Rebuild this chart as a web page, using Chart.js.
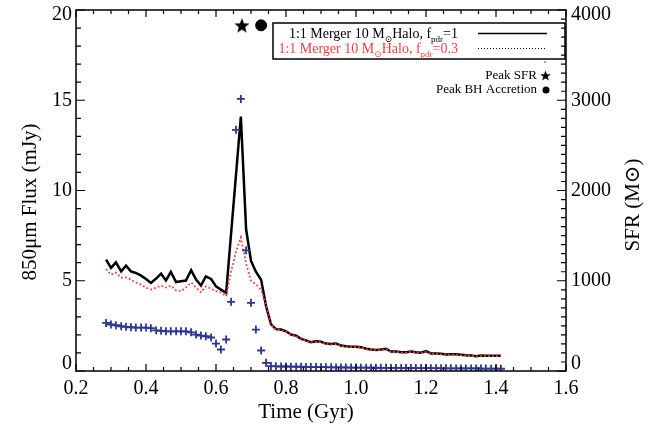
<!DOCTYPE html>
<html>
<head>
<meta charset="utf-8">
<script src="https://cdn.jsdelivr.net/npm/chart.js@4.4.1/dist/chart.umd.min.js"></script>
<style>
  html, body { margin: 0; padding: 0; background: #fff; }
</style>
</head>
<body>
<canvas id="fluxChart" width="660" height="433"></canvas>
<script>
// simulation snapshot times (Gyr)
const timeGyr = [
  0.286, 0.300, 0.314, 0.329, 0.343, 0.357, 0.371, 0.386, 0.400, 0.414,
  0.429, 0.443, 0.457, 0.471, 0.486, 0.500, 0.514, 0.529, 0.543, 0.557,
  0.571, 0.586, 0.600, 0.614, 0.629, 0.643, 0.657, 0.671, 0.686, 0.700,
  0.714, 0.729, 0.743, 0.757, 0.771, 0.786, 0.800, 0.814, 0.829, 0.843,
  0.857, 0.871, 0.886, 0.900, 0.914, 0.929, 0.943, 0.957, 0.971, 0.986,
  1.000, 1.014, 1.029, 1.043, 1.057, 1.071, 1.086, 1.100, 1.114, 1.129,
  1.143, 1.157, 1.171, 1.186, 1.200, 1.214, 1.229, 1.243, 1.257, 1.271,
  1.286, 1.300, 1.314, 1.329, 1.343, 1.357, 1.371, 1.386, 1.400, 1.414
];

// 850um flux (mJy), f_pdr = 1
const fluxFpdr1 = [
  6.17, 5.71, 6.02, 5.52, 5.84, 5.52, 5.43, 5.28, 5.10, 4.88,
  5.12, 5.39, 5.02, 5.49, 4.93, 4.97, 5.01, 5.58, 5.06, 4.73,
  5.24, 5.10, 4.69, 4.51, 4.33, 7.59, 10.84, 14.10, 7.85, 6.10,
  5.50, 5.05, 3.60, 2.60, 2.32, 2.30, 2.20, 2.02, 1.96, 1.78,
  1.70, 1.59, 1.65, 1.62, 1.52, 1.50, 1.52, 1.41, 1.37, 1.34,
  1.34, 1.32, 1.23, 1.19, 1.17, 1.19, 1.23, 1.08, 1.08, 1.04,
  1.04, 1.08, 1.04, 1.01, 1.10, 0.97, 0.97, 0.95, 0.91, 0.93,
  0.93, 0.90, 0.87, 0.86, 0.82, 0.86, 0.84, 0.84, 0.84, 0.84
];

// 850um flux (mJy), f_pdr = 0.3
const fluxFpdr03 = [
  5.65, 5.34, 5.45, 5.17, 5.19, 5.06, 4.90, 4.79, 4.62, 4.51,
  4.62, 4.73, 4.62, 4.73, 4.47, 4.42, 4.62, 4.90, 4.62, 4.36,
  4.69, 4.56, 4.42, 4.34, 4.14, 5.50, 6.60, 7.40, 5.95, 5.00,
  4.80, 4.50, 3.70, 2.62, 2.28, 2.27, 2.17, 2.00, 1.93, 1.76,
  1.68, 1.57, 1.62, 1.60, 1.50, 1.48, 1.49, 1.39, 1.35, 1.32,
  1.32, 1.30, 1.21, 1.17, 1.15, 1.17, 1.21, 1.06, 1.06, 1.02,
  1.02, 1.06, 1.02, 0.99, 1.07, 0.95, 0.95, 0.93, 0.89, 0.91,
  0.91, 0.88, 0.85, 0.84, 0.80, 0.84, 0.82, 0.82, 0.82, 0.82
];

// star formation rate (right axis)
const sfr = [
  533, 515, 507, 496, 489, 485, 481, 481, 481, 474,
  451, 445, 440, 440, 440, 440, 440, 429, 404, 393,
  385, 371, 304, 238, 349, 766, 2672, 3015, 1337, 755,
  459, 227, 91, 55, 52, 50, 50, 48, 47, 47,
  45, 44, 44, 42, 42, 41, 40, 40, 39, 38,
  38, 37, 37, 36, 36, 35, 35, 34, 34, 34,
  33, 33, 32, 32, 31, 31, 31, 30, 30, 30,
  29, 29, 28, 28, 28, 27, 27, 26, 26, 25
];

const peakSfrTime = [0.674];
const peakBhTime = [0.729];
const peakMarkerFlux = 19.15;

const xTickLabels = [0.2, 0.4, 0.6, 0.8, 1.0, 1.2, 1.4, 1.6];
const fluxTickLabels = [0, 5, 10, 15, 20];
const sfrTickLabels = [0, 1000, 2000, 3000, 4000];

const serif = '"Liberation Serif", "DejaVu Serif", serif';
const red = '#ff3b3b';
const navy = '#2c3592';

function makeStar(size) {
  const c = document.createElement('canvas');
  c.width = size; c.height = size;
  const g = c.getContext('2d');
  g.beginPath();
  for (let k = 0; k < 10; k++) {
    const r = k % 2 ? size * 0.21 : size * 0.5;
    const ang = -Math.PI / 2 + k * Math.PI / 5;
    g.lineTo(size / 2 + r * Math.cos(ang), size * 0.55 + r * Math.sin(ang));
  }
  g.closePath();
  g.fillStyle = '#000';
  g.fill();
  return c;
}

function pts(ys) {
  return timeGyr.map((t, i) => ({ x: t, y: ys[i] }));
}

// draw a string with subscript pieces, right aligned at xr
function drawRich(ctx, parts, xr, y, color, size) {
  const main = size + 'px ' + serif;
  const small = Math.round(size * 0.65) + 'px ' + serif;
  let w = 0;
  parts.forEach(p => { ctx.font = p.sub ? small : main; w += ctx.measureText(p.t).width; });
  let xp = xr - w;
  ctx.fillStyle = color;
  ctx.textAlign = 'left';
  ctx.textBaseline = 'alphabetic';
  parts.forEach(p => {
    ctx.font = p.sub ? small : main;
    ctx.fillText(p.t, xp, p.sub ? y + 4 : y);
    xp += ctx.measureText(p.t).width;
  });
}

const idlFrame = {
  id: 'idlFrame',
  afterDatasetsDraw(chart) {
    const { ctx, chartArea: a, scales } = chart;
    const xs = scales.x, yl = scales.y, yr = scales.ySFR;
    ctx.save();
    ctx.strokeStyle = '#000';
    ctx.lineWidth = 1.5;
    ctx.strokeRect(a.left, a.top, a.right - a.left, a.bottom - a.top);

    // inward ticks
    ctx.lineWidth = 1.2;
    ctx.beginPath();
    for (let k = 4; k <= 32; k++) {
      const p = xs.getPixelForValue(k * 0.05);
      const len = k % 4 === 0 ? 7 : 4;
      ctx.moveTo(p, a.bottom); ctx.lineTo(p, a.bottom - len);
      ctx.moveTo(p, a.top); ctx.lineTo(p, a.top + len);
    }
    for (let k = 0; k <= 20; k++) {
      const p = yl.getPixelForValue(k);
      const len = k % 5 === 0 ? 9 : 5;
      ctx.moveTo(a.left, p); ctx.lineTo(a.left + len, p);
    }
    for (let k = 0; k <= 40; k++) {
      const p = yr.getPixelForValue(k * 100);
      const len = k % 10 === 0 ? 9 : 5;
      ctx.moveTo(a.right, p); ctx.lineTo(a.right - len, p);
    }
    ctx.stroke();

    // tick labels
    ctx.fillStyle = '#000';
    ctx.font = '20px ' + serif;
    ctx.textBaseline = 'middle';
    ctx.textAlign = 'center';
    xTickLabels.forEach(v => ctx.fillText(v.toFixed(1), xs.getPixelForValue(v), 389));
    const clampY = p => Math.min(Math.max(p, a.top + 5), a.bottom - 7);
    ctx.textAlign = 'right';
    fluxTickLabels.forEach(v => ctx.fillText(String(v), a.left - 4, clampY(yl.getPixelForValue(v))));
    ctx.textAlign = 'left';
    sfrTickLabels.forEach(v => ctx.fillText(String(v), a.right + 5, clampY(yr.getPixelForValue(v))));

    // axis titles
    ctx.font = '21px ' + serif;
    ctx.textAlign = 'center';
    ctx.fillText('Time (Gyr)', 306, 412);
    ctx.save();
    ctx.translate(30, 202);
    ctx.rotate(-Math.PI / 2);
    ctx.fillText('850\u03bcm Flux (mJy)', 0, 0);
    ctx.restore();
    ctx.save();
    ctx.translate(633, 205);
    ctx.rotate(-Math.PI / 2);
    ctx.fillText('SFR (M\u2299)', 0, 0);
    ctx.restore();

    // legend box
    ctx.lineWidth = 1.5;
    ctx.strokeRect(273, 23, 292, 36);
    drawRich(ctx, [{ t: '1:1 Merger 10 M' }, { t: '\u2299', sub: true }, { t: 'Halo, f' }, { t: 'pdr', sub: true }, { t: '=1' }], 458, 38, '#000', 14);
    drawRich(ctx, [{ t: '1:1 Merger 10 M' }, { t: '\u2299', sub: true }, { t: 'Halo, f' }, { t: 'pdr', sub: true }, { t: '=0.3' }], 458, 53, red, 14);
    ctx.beginPath();
    ctx.strokeStyle = '#000';
    ctx.lineWidth = 1.5;
    ctx.moveTo(478, 33.5); ctx.lineTo(547, 33.5);
    ctx.stroke();
    ctx.beginPath();
    ctx.setLineDash([1, 2]);
    ctx.lineWidth = 1;
    ctx.moveTo(478, 48.5); ctx.lineTo(547, 48.5);
    ctx.stroke();
    ctx.setLineDash([]);

    // marker key
    ctx.fillStyle = '#000';
    ctx.font = '13px ' + serif;
    ctx.textAlign = 'right';
    ctx.textBaseline = 'middle';
    ctx.fillText('Peak SFR', 537, 76);
    ctx.fillText('Peak BH Accretion', 537, 90);
    ctx.drawImage(makeStar(11), 540, 70);
    ctx.beginPath();
    ctx.arc(546, 90, 3.5, 0, Math.PI * 2);
    ctx.fill();
    ctx.fillRect(544.5, 61.5, 1.2, 1.2);
    ctx.restore();
  }
};

new Chart(document.getElementById('fluxChart'), {
  type: 'line',
  data: {
    datasets: [
      {
        label: 'f_pdr=1',
        data: pts(fluxFpdr1),
        yAxisID: 'y',
        borderColor: '#000',
        borderWidth: 2.5,
        pointRadius: 0,
        tension: 0,
        order: 2
      },
      {
        label: 'f_pdr=0.3',
        data: pts(fluxFpdr03),
        yAxisID: 'y',
        borderColor: red,
        borderWidth: 1.8,
        borderDash: [1.8, 2.2],
        pointRadius: 0,
        tension: 0,
        order: 1
      },
      {
        label: 'SFR',
        data: pts(sfr),
        yAxisID: 'ySFR',
        showLine: false,
        pointStyle: 'cross',
        pointRadius: 4,
        borderColor: navy,
        borderWidth: 1.8,
        order: 0
      },
      {
        label: 'Peak SFR',
        data: peakSfrTime.map(t => ({ x: t, y: peakMarkerFlux })),
        yAxisID: 'y',
        showLine: false,
        pointStyle: makeStar(16),
        order: 0
      },
      {
        label: 'Peak BH Accretion',
        data: peakBhTime.map(t => ({ x: t, y: peakMarkerFlux })),
        yAxisID: 'y',
        showLine: false,
        pointStyle: 'circle',
        pointRadius: 5.5,
        backgroundColor: '#000',
        borderColor: '#000',
        order: 0
      }
    ]
  },
  options: {
    responsive: false,
    animation: false,
    devicePixelRatio: 1,
    layout: { padding: { top: 10, left: 0, right: 0, bottom: 0 } },
    plugins: { legend: { display: false }, tooltip: { enabled: false } },
    scales: {
      x: {
        type: 'linear', min: 0.2, max: 1.6,
        ticks: { display: false }, grid: { display: false }, border: { display: false },
        afterFit: s => { s.height = 62; }
      },
      y: {
        position: 'left', min: 0, max: 20,
        ticks: { display: false }, grid: { display: false }, border: { display: false },
        afterFit: s => { s.width = 76; }
      },
      ySFR: {
        position: 'right', min: 0, max: 4000,
        ticks: { display: false }, grid: { display: false }, border: { display: false },
        afterFit: s => { s.width = 94; }
      }
    }
  },
  plugins: [idlFrame]
});
</script>
</body>
</html>
